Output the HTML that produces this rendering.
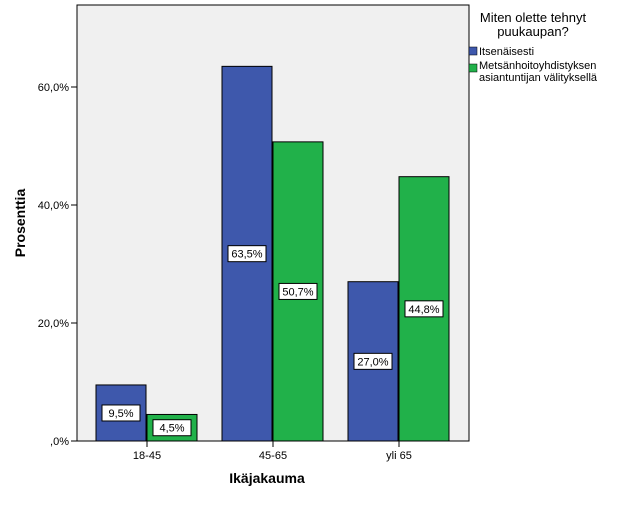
<!DOCTYPE html>
<html><head><meta charset="utf-8"><style>
body{margin:0;background:#fff;font-family:"Liberation Sans",sans-serif}
svg text{font-family:"Liberation Sans",sans-serif}
</style></head><body>
<svg width="626" height="501">
<rect x="77" y="5" width="392" height="436" fill="#f0f0f0" stroke="#000" stroke-width="1"/>
<g id="bars"></g>
<g id="axes"></g>
<text x="25" y="223" font-size="14" font-weight="bold" text-anchor="middle" transform="rotate(-90 25 223)">Prosenttia</text>
<text x="267" y="483" font-size="14" font-weight="bold" text-anchor="middle">Ikäjakauma</text>
<text x="533" y="22" font-size="13" text-anchor="middle">Miten olette tehnyt</text>
<text x="533" y="36" font-size="13" text-anchor="middle">puukaupan?</text>
<rect x="469" y="47" width="8" height="8" fill="#3e58ac" stroke="#000" stroke-width="0.5"/>
<text x="479" y="55" font-size="11">Itsenäisesti</text>
<rect x="469" y="64" width="8" height="8" fill="#21b14a" stroke="#000" stroke-width="0.5"/>
<text x="479" y="69" font-size="11">Metsänhoitoyhdistyksen</text>
<text x="479" y="81" font-size="11">asiantuntijan välityksellä</text>
</svg>
<script>
const categories=["18-45","45-65","yli 65"];
const itsenaisesti=[9.5,63.5,27.0];
const metsanhoito=[4.5,50.7,44.8];
const yTicks=[0,20,40,60];
const yTickLabels=[",0%","20,0%","40,0%","60,0%"];
const NS="http://www.w3.org/2000/svg";
const y=v=>441-v*5.9;
const xc=i=>147+i*126;
const bars=document.getElementById("bars"),axes=document.getElementById("axes");
function mk(tag,attrs,parent){const e=document.createElementNS(NS,tag);for(const k in attrs)e.setAttribute(k,attrs[k]);parent.appendChild(e);return e;}
function fmt(v){return v.toFixed(1).replace(".",",")+"%";}
[[itsenaisesti,"#3e58ac",-51,"itsenaisesti"],[metsanhoito,"#21b14a",0,"metsanhoito"]].forEach(([arr,col,off,nm])=>{
arr.forEach((v,i)=>{
const r=mk("rect",{x:xc(i)+off,y:y(v),width:50,height:441-y(v),fill:col,stroke:"#000","stroke-width":1},bars);


const cx=xc(i)+off+25,cy=(y(v)+441)/2;
const lb=mk("rect",{x:cx-19,y:cy-8,width:38,height:16,fill:"#fff",stroke:"#000","stroke-width":1},bars);


const t=mk("text",{x:cx,y:cy+4,"font-size":11,"text-anchor":"middle"},bars);
t.textContent=fmt(v);


});});
yTicks.forEach((v,i)=>{
const l=mk("line",{x1:71,x2:77,y1:y(v),y2:y(v),stroke:"#000"},axes);


const t=mk("text",{x:69,y:y(v)+4,"font-size":11,"text-anchor":"end"},axes);
t.textContent=yTickLabels[i];


});
categories.forEach((c,i)=>{
const l=mk("line",{x1:xc(i),x2:xc(i),y1:441,y2:447,stroke:"#000"},axes);


const t=mk("text",{x:xc(i),y:459,"font-size":11,"text-anchor":"middle"},axes);
t.textContent=c;


});
</script>
</body></html>
